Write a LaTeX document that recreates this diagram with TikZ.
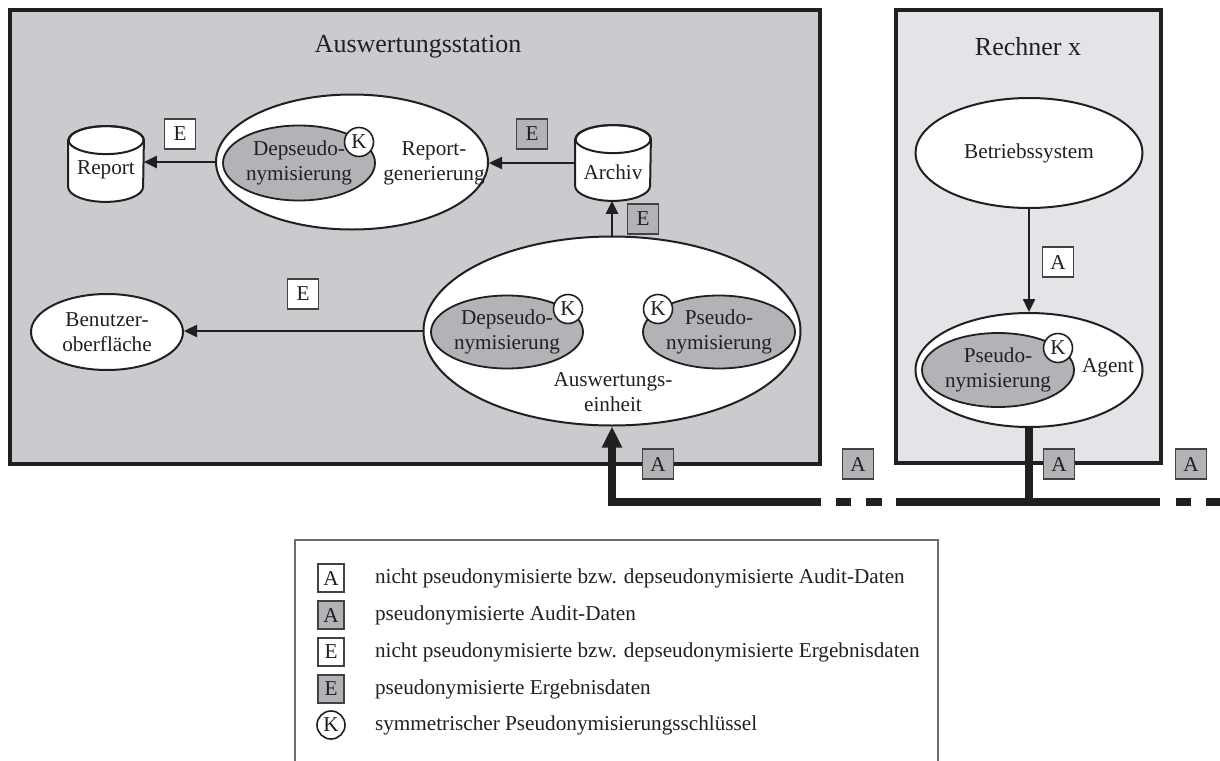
\documentclass[tikz,border=0pt]{standalone}
\usepackage{fontspec}
\setmainfont{Liberation Serif}
\usetikzlibrary{shapes.geometric,arrows.meta}
\definecolor{ink}{HTML}{231F20}
\definecolor{stationbg}{HTML}{CACBCF}
\definecolor{rechnerbg}{HTML}{E4E3E8}
\definecolor{grayfill}{HTML}{B1B3B6}
\definecolor{legendline}{HTML}{6D6E71}
\tikzset{
  every node/.style={font=\fontsize{10.6pt}{12.5pt}\selectfont, text=ink},
  boxframe/.style={rectangle, draw=ink, line width=2pt, inner sep=0pt},
  ttl/.style={font=\fontsize{13pt}{15pt}\selectfont},
  proc/.style={ellipse, draw=ink, line width=1pt, fill=white, inner sep=0pt, align=center},
  func/.style={ellipse, draw=ink, line width=0.9pt, fill=grayfill, inner sep=0pt, align=center},
  keynode/.style={circle, draw=ink, line width=0.8pt, fill=white, inner sep=0pt, minimum size=14.5pt},
  lbl/.style={rectangle, draw=ink!85, line width=0.7pt, fill=white, inner sep=0pt, minimum width=15.5pt, minimum height=15pt},
  lblg/.style={lbl, fill=grayfill},
  leglbl/.style={lbl, minimum width=13pt, minimum height=14pt},
  leglblg/.style={leglbl, fill=grayfill},
  store/.style={rectangle, inner sep=0pt, minimum width=37.5pt, minimum height=37.5pt},
  flowarrow/.style={draw=ink, line width=1.2pt, -{Triangle[length=6.5pt,width=6pt]}},
  busline/.style={draw=ink, line width=4pt, line cap=butt},
  legtext/.style={anchor=west}
}
\newcommand\drawcyl[1]{%
  \draw[ink, line width=1pt, fill=white]
    ([yshift=-7pt]#1.north west) -- ([yshift=7.5pt]#1.south west)
    arc[start angle=180, end angle=360, x radius=18.75pt, y radius=7.5pt]
    -- ([yshift=-7pt]#1.north east)
    arc[start angle=0, end angle=180, x radius=18.75pt, y radius=7pt] -- cycle;
  \draw[ink, line width=1pt] ([yshift=-7pt]#1.north) ellipse [x radius=18.75pt, y radius=7pt];
}
\begin{document}
\begin{tikzpicture}[x=0.5pt,y=-0.5pt]
\clip (0,0) rectangle (1220,760);
\fill[white] (0,0) rectangle (1220,760);

% frames
\node (station) [boxframe, fill=stationbg, minimum width=405pt, minimum height=227pt] at (415,237) {};
\node (stationttl) [ttl] at (418,47) {Auswertungsstation};
\node (rechner) [boxframe, fill=rechnerbg, minimum width=132.5pt, minimum height=226.5pt] at (1028.5,236.5) {};
\node (rechnerttl) [ttl] at (1028,47) {Rechner x};

% Report generation
\node (report) [store] at (106,164) {};
\drawcyl{report}
\node (reporttxt) at (106,170) {Report};
\node (repgen) [proc, minimum width=136pt, minimum height=67.5pt] at (352,162) {};
\node (depseudo1) [func, minimum width=76pt, minimum height=37.5pt] at (299,163) {Depseudo-\\nymisierung};
\node (k1) [keynode] at (359,142) {K};
\node (repgentxt) [align=center] at (434,163) {Report-\\generierung};
\node (archiv) [store] at (613,163) {};
\drawcyl{archiv}
\node (archivtxt) at (613,172) {Archiv};

% Auswertungseinheit
\node (einheit) [proc, minimum width=188.5pt, minimum height=94.5pt] at (612,331) {};
\node (depseudo2) [func, minimum width=76pt, minimum height=36.5pt] at (507,332) {Depseudo-\\nymisierung};
\node (k2) [keynode] at (568,309) {K};
\node (pseudo1) [func, minimum width=76pt, minimum height=36.5pt] at (719,332) {Pseudo-\\nymisierung};
\node (k3) [keynode] at (658,309) {K};
\node (einheittxt) [align=center] at (613,392) {Auswertungs-\\einheit};
\node (benutzer) [proc, minimum width=76pt, minimum height=38pt] at (107,332) {Benutzer-\\oberfläche};

% Rechner x
\node (bs) [proc, minimum width=113.5pt, minimum height=55pt] at (1029,153) {Betriebssystem};
\node (agent) [proc, minimum width=113.5pt, minimum height=57pt] at (1029,370) {};
\node (pseudo2) [func, minimum width=76pt, minimum height=37pt] at (998,370) {Pseudo-\\nymisierung};
\node (k4) [keynode] at (1058,348) {K};
\node (agenttxt) at (1108,368) {Agent};

% connectors
\draw[flowarrow] (repgen.west) -- (repgen.west -| report.east);
\draw[flowarrow] (archiv.west) -- (archiv.west -| repgen.east);
\draw[flowarrow] (einheit.north) -- (einheit.north |- archiv.south);
\draw[flowarrow] (einheit.west) -- (einheit.west -| benutzer.east);
\draw[flowarrow] (bs.south) -- (agent.north);

% bus
\coordinate (corner) at (einheit.south |- 0,502);
\coordinate (busA) at (821,502);
\coordinate (busB) at (896,502);
\coordinate (busC) at (1160,502);
\coordinate (agentbus) at (agent.south |- 0,502);
\draw[busline, line join=miter, -{Triangle[length=10.5pt,width=9.5pt]}] (busA) -- (corner) -- (einheit.south);
\draw[busline] (busB) -- (busC);
\draw[busline] (agent.south) -- (agentbus);
\draw[busline] (836,502) -- (851,502);
\draw[busline] (866,502) -- (882,502);
\draw[busline] (1176,502) -- (1191,502);
\draw[busline] (1206,502) -- (1222,502);

% data labels
\node (e1) [lbl] at (180,134) {E};
\node (e2) [lblg] at (532,134) {E};
\node (e3) [lblg] at (643,219) {E};
\node (e4) [lbl] at (303,294) {E};
\node (a1) [lbl] at (1058,262) {A};
\node (a2) [lblg] at (658,464) {A};
\node (a3) [lblg] at (858,464) {A};
\node (a4) [lblg] at (1059,464) {A};
\node (a5) [lblg] at (1191,464) {A};

% legend
\node (legend) [rectangle, draw=legendline, line width=0.8pt, minimum width=321.5pt, minimum height=120pt] at (616.5,660) {};
\node (lg1) [leglbl] at (331,578) {A};
\node (lt1) [legtext] at (368,578) {nicht pseudonymisierte bzw. depseudonymisierte Audit-Daten};
\node (lg2) [leglblg] at (331,615) {A};
\node (lt2) [legtext] at (368,615) {pseudonymisierte Audit-Daten};
\node (lg3) [leglbl] at (331,652) {E};
\node (lt3) [legtext] at (368,652) {nicht pseudonymisierte bzw. depseudonymisierte Ergebnisdaten};
\node (lg4) [leglblg] at (331,689) {E};
\node (lt4) [legtext] at (368,689) {pseudonymisierte Ergebnisdaten};
\node (lg5) [keynode, minimum size=14pt] at (331,725) {K};
\node (lt5) [legtext] at (368,725) {symmetrischer Pseudonymisierungsschlüssel};
\end{tikzpicture}
\end{document}
